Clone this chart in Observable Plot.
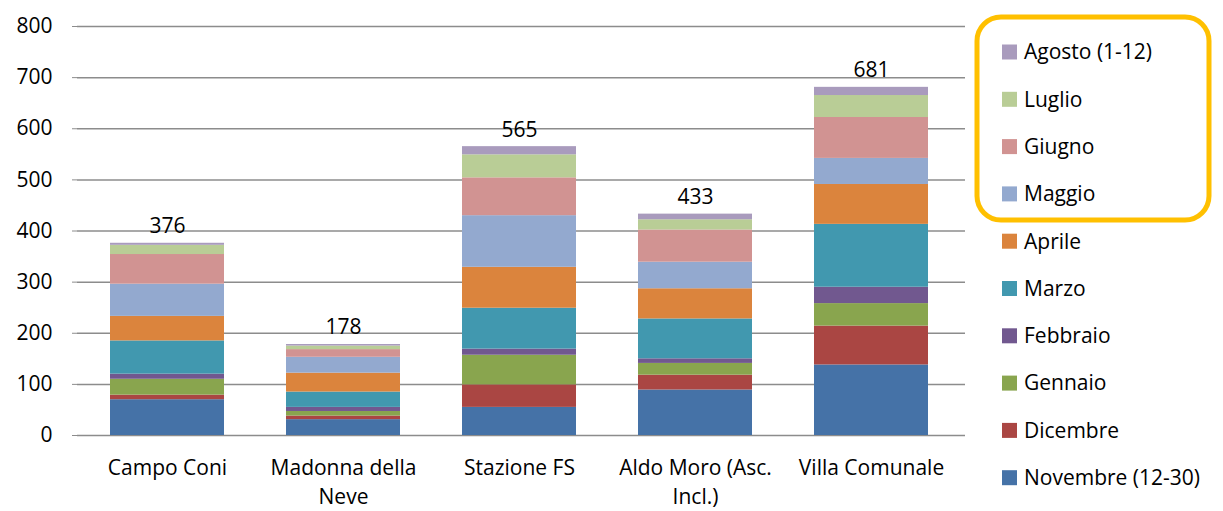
<!DOCTYPE html>
<html>
<head>
<meta charset="utf-8">
<script src="https://cdn.jsdelivr.net/npm/d3@7"></script>
<script src="https://cdn.jsdelivr.net/npm/@observablehq/plot@0.6"></script>
<style>
  html, body { margin: 0; padding: 0; background: #fff; }
  #chart { position: relative; width: 1223px; height: 511px; }
  svg { font-family: "Open Sans", Lato, sans-serif; }
</style>
</head>
<body>
<div id="chart"></div>
<script>
const categories = ["Campo Coni", "Madonna della Neve", "Stazione FS", "Aldo Moro (Asc. Incl.)", "Villa Comunale"];
const categoryLabels = ["Campo Coni", "Madonna della\nNeve", "Stazione FS", "Aldo Moro (Asc.\nIncl.)", "Villa Comunale"];
const months = ["Novembre (12-30)", "Dicembre", "Gennaio", "Febbraio", "Marzo", "Aprile", "Maggio", "Giugno", "Luglio", "Agosto (1-12)"];
const colors = ["#4572A7", "#AA4643", "#89A54E", "#71588F", "#4198AF", "#DB843D", "#93A9CF", "#D19392", "#B9CD96", "#A99BBD"];

const novembre = [70, 31, 55, 89, 138];
const dicembre = [9, 7, 44, 29, 76];
const gennaio  = [31, 9, 58, 23, 44];
const febbraio = [10, 8, 12, 9, 32];
const marzo    = [65, 30, 80, 78, 123];
const aprile   = [48, 37, 80, 59, 78];
const maggio   = [63, 31, 101, 52, 51];
const giugno   = [58, 15, 74, 63, 80];
const luglio   = [18, 7, 45, 20, 43];
const agosto   = [4, 3, 16, 11, 16];
const totals   = [376, 178, 565, 433, 681];
const yTicks   = [0, 100, 200, 300, 400, 500, 600, 700, 800];

const series = [novembre, dicembre, gennaio, febbraio, marzo, aprile, maggio, giugno, luglio, agosto];
const rows = [];
categories.forEach((c, i) => {
  months.forEach((m, j) => rows.push({cat: c, month: m, value: series[j][i]}));
});
const totalRows = categories.map((c, i) => ({cat: c, total: totals[i]}));

const FS = 21;
const grid = "#8c8c8c";
const plot = Plot.plot({
  width: 1223,
  height: 511,
  marginLeft: 77,
  marginRight: 258,
  marginTop: 26,
  marginBottom: 76,
  style: {fontSize: FS + "px", fontFamily: "'Open Sans', Lato, sans-serif", color: "#000"},
  x: {domain: categories, range: [77, 960], paddingInner: 0.355, paddingOuter: 0.1775},
  y: {domain: [0, 800]},
  color: {domain: months, range: colors},
  marks: [
    Plot.ruleY(yTicks, {stroke: grid, strokeWidth: 1.5}),
    Plot.barY(rows, {x: "cat", y: "value", fill: "month"}),
    Plot.ruleX([0], {x: () => 0, frameAnchor: "left", stroke: grid, strokeWidth: 1.5}),
    Plot.axisY({ticks: yTicks, tickSize: 5, tickPadding: 20, stroke: grid, fontSize: FS, label: null}),
    Plot.axisX({tickSize: 0, tickPadding: 19, fontSize: FS, label: null, lineHeight: 1.38,
      tickFormat: (d) => categoryLabels[categories.indexOf(d)]}),
    Plot.text(totalRows, {x: "cat", y: "total", text: (d) => String(d.total), dy: -10, lineAnchor: "bottom", fontSize: FS, fill: "#000"})
  ]
});

document.getElementById("chart").appendChild(plot);

// Legend drawn into the same SVG
const svg = d3.select(plot);
const legendMonths = months.slice().reverse();
const legendColors = colors.slice().reverse();
const lg = svg.append("g").attr("text-anchor", "start");
lg.append("rect")
  .attr("x", 977).attr("y", 17).attr("width", 232).attr("height", 203)
  .attr("rx", 24).attr("ry", 24)
  .attr("fill", "none").attr("stroke", "#FFC000").attr("stroke-width", 5);
legendMonths.forEach((m, i) => {
  const cy = 52 + i * 47.3;
  lg.append("rect").attr("x", 1002).attr("y", cy - 7.5).attr("width", 15).attr("height", 15).attr("fill", legendColors[i]);
  lg.append("text").attr("x", 1024).attr("y", cy).attr("dy", "0.35em")
    .attr("text-anchor", "start")
    .attr("font-size", FS).attr("fill", "#000").text(m);
});
</script>
</body>
</html>
